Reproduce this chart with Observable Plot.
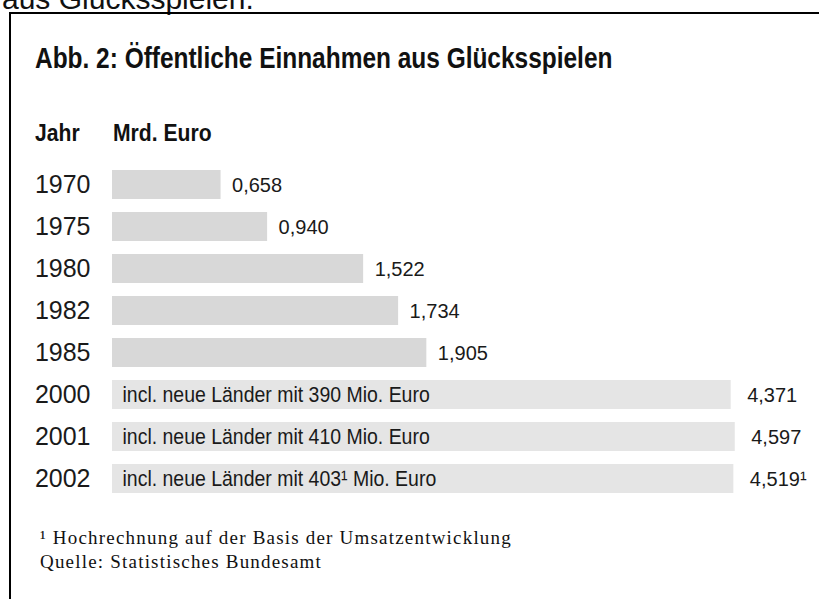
<!DOCTYPE html>
<html><head><meta charset="utf-8">
<script src="https://cdn.jsdelivr.net/npm/d3@7"></script>
<script src="https://cdn.jsdelivr.net/npm/@observablehq/plot@0.6"></script>
<style>
html,body{margin:0;padding:0;background:#fff;}
body{width:819px;height:599px;overflow:hidden;position:relative;font-family:"Liberation Sans",Arial,sans-serif;color:#111;}
#toptext{position:absolute;left:2px;top:-16px;font-size:30px;line-height:30px;white-space:nowrap;}
#frame{position:absolute;left:9px;top:12px;width:840px;height:620px;border-left:2px solid #000;border-top:2px solid #000;}
#title{position:absolute;left:35px;top:43px;font-weight:bold;font-size:30px;line-height:30px;white-space:nowrap;transform:scaleX(0.815);transform-origin:0 0;}
.head{position:absolute;top:121px;font-weight:bold;font-size:24px;line-height:24px;white-space:nowrap;transform:scaleX(0.88);transform-origin:0 0;}
#chart{position:absolute;left:0;top:100px;}
#notes{position:absolute;left:40px;top:526px;font-family:"Liberation Serif",serif;font-size:19px;letter-spacing:1.2px;line-height:24px;white-space:nowrap;color:#111;}
</style></head>
<body>
<div id="toptext">aus Glücksspielen.</div>
<div id="frame"></div>
<div id="title">Abb. 2: Öffentliche Einnahmen aus Glücksspielen</div>
<div class="head" style="left:35px">Jahr</div>
<div class="head" style="left:113px">Mrd. Euro</div>
<div id="chart"></div>
<div id="notes"><div>¹ Hochrechnung auf der Basis der Umsatzentwicklung</div><div>Quelle: Statistisches Bundesamt</div></div>
<script>
const years = ["1970","1975","1980","1982","1985","2000","2001","2002"];
const values = [0.658, 0.940, 1.522, 1.734, 1.905, 4.371, 4.597, 4.519];
const valueLabels = ["0,658","0,940","1,522","1,734","1,905","4,371","4,597","4,519¹"];
const groups = ["alt","alt","alt","alt","alt","neu","neu","neu"];
const notes = ["","","","","","incl. neue Länder mit 390 Mio. Euro","incl. neue Länder mit 410 Mio. Euro","incl. neue Länder mit 403¹ Mio. Euro"];

const rows = years.map((y, i) => ({year: y, value: values[i], label: valueLabels[i], group: groups[i], note: notes[i]}));
const oldRows = rows.filter(d => d.group === "alt");
const newRows = rows.filter(d => d.group === "neu");

const chart = Plot.plot({
  width: 819,
  height: 420,
  marginLeft: 112,
  marginRight: 0,
  marginTop: 0,
  marginBottom: 0,
  style: {background: "transparent", overflow: "visible"},
  x: {type: "linear", domain: [0, 2, 4, 5], range: [112, 442, 724, 742], axis: null},
  y: {type: "band", domain: years, range: [63, 400], paddingInner: 0.31, paddingOuter: 0.155},
  color: {domain: ["alt","neu"], range: ["#d8d8d8","#e5e5e5"]},
  marks: [
    Plot.barX(rows, {x: "value", y: "year", fill: "group"}),
    Plot.axisY({anchor: "left", tickSize: 0, tickPadding: 22, fontSize: 25, fontFamily: "Liberation Sans", fill: "#1a1a1a", label: null}),
    Plot.text(oldRows, {x: "value", y: "year", text: "label", textAnchor: "start", dx: 11, dy: 1, fontSize: 20, fontFamily: "Liberation Sans", fill: "#1a1a1a"}),
    Plot.text(newRows, {x: "value", y: "year", text: "label", textAnchor: "start", dx: 16, dy: 1, fontSize: 20, fontFamily: "Liberation Sans", fill: "#1a1a1a"}),
    Plot.text(newRows, {x: 0, y: "year", text: "note", textAnchor: "start", dx: 10, fontSize: 22, fontFamily: "Liberation Sans", fill: "#1a1a1a"})
  ]
});
// condense the in-bar notes horizontally (style only)
d3.select(chart).selectAll("text").filter(function() { return this.textContent.startsWith("incl."); })
  .attr("transform", function() { return this.getAttribute("transform") + " scale(0.885,1)"; });
document.getElementById("chart").appendChild(chart);
</script>
</body></html>
